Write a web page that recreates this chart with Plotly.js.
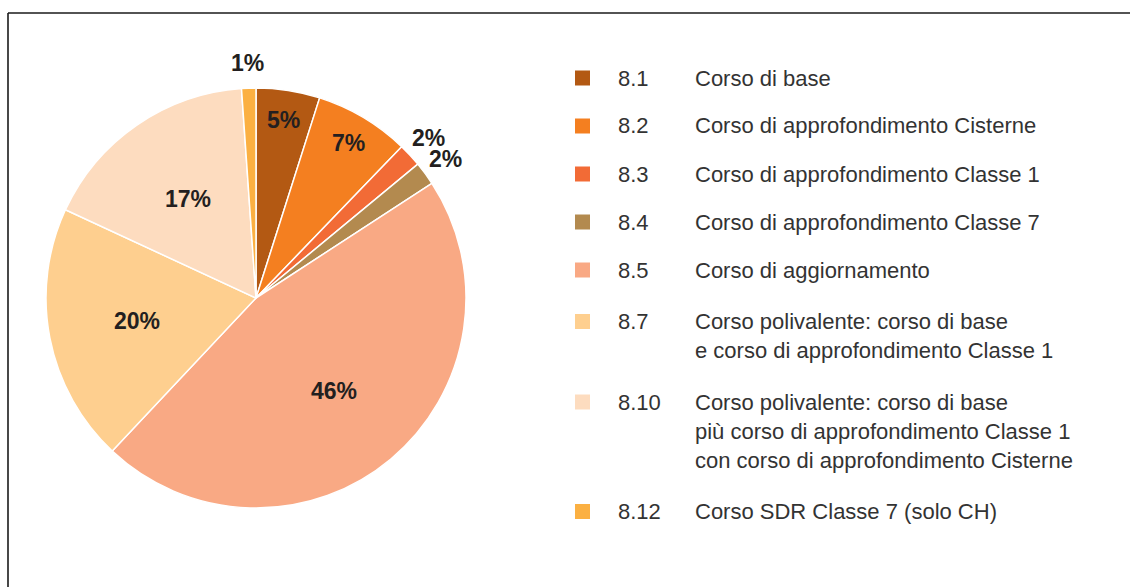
<!DOCTYPE html>
<html>
<head>
<meta charset="utf-8">
<script src="https://cdn.plot.ly/plotly-3.0.1.min.js"></script>
<style>html,body{margin:0;padding:0;background:#fff;}#chart{width:1130px;height:587px;}</style>
</head>
<body>
<div id="chart"></div>
<script>
const codes = ['8.1', '8.2', '8.3', '8.4', '8.5', '8.7', '8.10', '8.12'];
const descriptions = [
  ['Corso di base'],
  ['Corso di approfondimento Cisterne'],
  ['Corso di approfondimento Classe 1'],
  ['Corso di approfondimento Classe 7'],
  ['Corso di aggiornamento'],
  ['Corso polivalente: corso di base', 'e corso di approfondimento Classe 1'],
  ['Corso polivalente: corso di base', 'più corso di approfondimento Classe 1', 'con corso di approfondimento Cisterne'],
  ['Corso SDR Classe 7 (solo CH)']
];
const shares = [4.9, 7.3, 1.8, 1.8, 46.2, 19.9, 17.0, 1.1];
const colors = ['#b35913', '#f47f20', '#f26b36', '#b38a4f', '#f9a984', '#fecf8f', '#fddcbf', '#fbb042'];

const W = 1130, H = 587;
const px = x => x / W;
const py = y => 1 - y / H;

const cx = 256, cy = 298, R = 210;
const labelFont = { family: 'Liberation Sans, Arial, sans-serif', size: 23, color: '#231f20', weight: 'bold' };

const trace = {
  type: 'pie',
  labels: codes,
  values: shares,
  sort: false,
  direction: 'clockwise',
  rotation: 0,
  marker: { colors: colors, line: { color: '#ffffff', width: 1.5 } },
  textinfo: 'none',
  hoverinfo: 'label+percent',
  showlegend: false,
  domain: { x: [px(cx - R), px(cx + R)], y: [py(cy + R), py(cy - R)] }
};

const shapes = [
  { type: 'line', xref: 'paper', yref: 'paper', x0: px(8), x1: 1, y0: py(13), y1: py(13), line: { color: '#1a1a1a', width: 1.6 } },
  { type: 'line', xref: 'paper', yref: 'paper', x0: px(8), x1: px(8), y0: py(13), y1: 0, line: { color: '#1a1a1a', width: 1.6 } }
];
const annotations = [];

// percentage labels placed at each slice's mid-angle; distance from centre depends on slice size
const total = shares.reduce((a, b) => a + b, 0);
let cum = 0;
shares.forEach((v, i) => {
  const mid = (cum + v / 2) / total * 2 * Math.PI;
  cum += v;
  const pct = v / total * 100;
  const r = pct >= 15 ? 0.575 * R : (pct >= 4 ? 0.86 * R : R + 25);
  annotations.push({
    xref: 'paper', yref: 'paper',
    x: px(cx + r * Math.sin(mid)), y: py(cy - r * Math.cos(mid)),
    xanchor: 'center', yanchor: 'middle', showarrow: false,
    text: Math.round(pct) + '%', font: labelFont
  });
});

const legFont = { family: 'Liberation Sans, Arial, sans-serif', size: 22, color: '#333333' };
let y = 78;
codes.forEach((c, i) => {
  shapes.push({ type: 'rect', xref: 'paper', yref: 'paper', x0: px(575), x1: px(590), y0: py(y + 7.5), y1: py(y - 7.5), fillcolor: colors[i], line: { width: 0 } });
  annotations.push({ xref: 'paper', yref: 'paper', x: px(616), y: py(y), xanchor: 'left', yanchor: 'middle', text: c, showarrow: false, font: legFont });
  const lines = descriptions[i];
  lines.forEach((t, k) => {
    annotations.push({ xref: 'paper', yref: 'paper', x: px(693), y: py(y + k * 29), xanchor: 'left', yanchor: 'middle', text: t, showarrow: false, font: legFont });
  });
  const last = y + (lines.length - 1) * 29;
  y = last + (lines.length > 1 || (i + 1 < codes.length && descriptions[i + 1].length > 1) ? 51.5 : 48);
});

const layout = {
  width: W, height: H,
  margin: { l: 0, r: 0, t: 0, b: 0 },
  paper_bgcolor: '#ffffff',
  shapes: shapes,
  annotations: annotations
};
Plotly.newPlot('chart', [trace], layout, { displayModeBar: false, staticPlot: true });
</script>
</body>
</html>
